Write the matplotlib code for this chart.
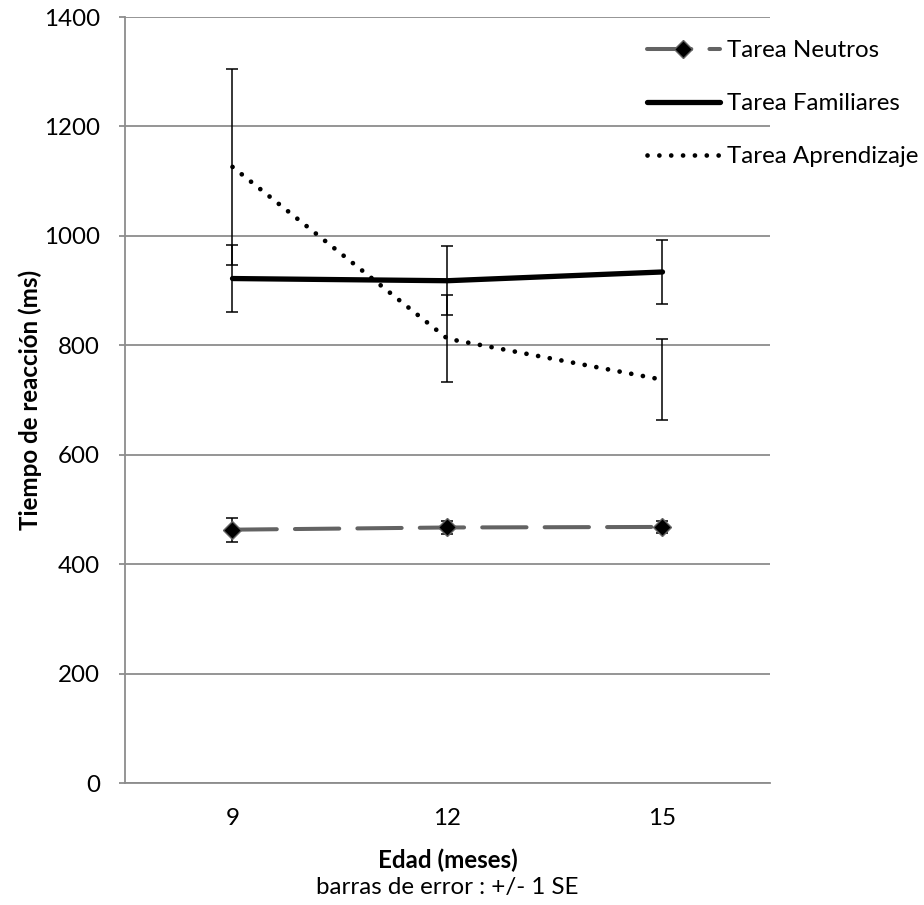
import matplotlib
matplotlib.use("Agg")
import matplotlib.pyplot as plt
import numpy as np

plt.rcParams['font.family'] = ['Lato', 'DejaVu Sans']

# Datos
edades = ['9', '12', '15']
neutros = [463, 467, 468]
neutros_se = [22, 12, 11]
familiares = [922, 918, 934]
familiares_se = [62, 63, 59]
aprendizaje = [1126, 812, 737]
aprendizaje_se = [179, 80, 74]

gris = '#636363'
gris_eje = '#8c8c8c'
fs = 17.4

fig = plt.figure(figsize=(9.24, 9.05), dpi=100)
ax = fig.add_axes([125/924, 1-783/905, 645/924, 766/905])
x = np.arange(len(edades))

# Barras de error
eb = dict(fmt='none', ecolor='black', elinewidth=1.1, capsize=4.3, capthick=1.1, zorder=3)
ax.errorbar(x, aprendizaje, yerr=aprendizaje_se, **eb)
ax.errorbar(x, familiares, yerr=familiares_se, **eb)
ax.errorbar(x, neutros, yerr=neutros_se, **eb)

# Series
ax.plot(x, neutros, color=gris, lw=2.9, linestyle=(0, (11, 4.5)),
        dash_capstyle='round', marker='D', markersize=9,
        markerfacecolor='black', markeredgecolor=gris, markeredgewidth=1,
        label='Tarea Neutros', zorder=4)
ax.plot(x, familiares, color='black', lw=3.8, solid_capstyle='round',
        label='Tarea Familiares', zorder=4)
ax.plot(x, aprendizaje, color='black', lw=3.4, linestyle=(0, (0.01, 2.5)),
        dash_capstyle='round', label='Tarea Aprendizaje', zorder=4)

# Ejes
ax.set_xlim(-0.5, 2.5)
ax.set_ylim(0, 1400)
ax.set_yticks(range(0, 1401, 200))
ax.set_xticks(x)
ax.set_xticklabels(edades)
ax.yaxis.grid(True, color=gris_eje, linewidth=1.3)
ax.set_axisbelow(True)
for s in ['top', 'right']:
    ax.spines[s].set_visible(False)
for s in ['left', 'bottom']:
    ax.spines[s].set_color(gris_eje)
    ax.spines[s].set_linewidth(1.3)
ax.tick_params(axis='y', length=4, color=gris_eje, width=1.3, pad=14, labelsize=fs)
ax.tick_params(axis='x', length=0, pad=18, labelsize=fs)

ax.set_xlabel('Edad (meses)', fontsize=fs, fontweight='bold', labelpad=14)
ax.set_ylabel('Tiempo de reacción (ms)', fontsize=fs, fontweight='bold', labelpad=1)
fig.text(447/924, 1-887/905, 'barras de error : +/- 1 SE', ha='center', va='center', fontsize=fs)

# Leyenda
ax.legend(loc='upper left', bbox_to_anchor=(647/924, 1-40/905),
          bbox_transform=fig.transFigure, frameon=False, fontsize=fs,
          borderpad=0, borderaxespad=0,
          handlelength=3.0, handletextpad=0.3, labelspacing=1.33)

fig.savefig('out.png', dpi=100)
